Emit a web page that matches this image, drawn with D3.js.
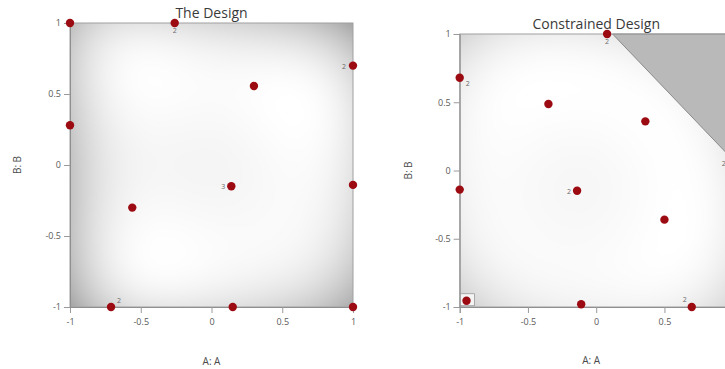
<!DOCTYPE html>
<html>
<head>
<meta charset="utf-8">
<script src="https://cdn.jsdelivr.net/npm/d3@7"></script>
<style>
  html, body { margin: 0; padding: 0; background: #ffffff; }
  svg { display: block; font-family: "Open Sans", "Segoe UI", sans-serif; }
</style>
</head>
<body>
<svg id="chart" width="725" height="369"></svg>
<script>
// Axis ticks shared by both panels
const tickValues = [-1, -0.5, 0, 0.5, 1];
const tickLabels = ["-1", "-0.5", "0", "0.5", "1"];

// Left panel: unconstrained design runs (A, B, replicate count)
const designA = [-1, -0.26, 1, 0.30, -1, 0.14, 1, -0.56, -0.71, 0.15, 1];
const designB = [1, 1, 0.70, 0.556, 0.28, -0.15, -0.14, -0.30, -1, -1, -1];
const designReps = [1, 2, 2, 1, 1, 3, 1, 1, 2, 1, 1];

// Right panel: constrained design runs
const consA = [0.08, -1, -0.35, 0.36, -1, -0.14, 0.50, -0.95, -0.11, 0.70, 1];
const consB = [1, 0.68, 0.487, 0.36, -0.14, -0.148, -0.36, -0.954, -0.98, -1, 0.08];
const consReps = [2, 2, 1, 1, 1, 2, 1, 1, 1, 2, 2];

// Excluded corner of the constrained region (A, B vertices)
const constraintA = [0.12, 1, 1];
const constraintB = [1, 1, 0.08];

// Replicate label placement per run: [dx, dy, anchor]
const designLabelPos = [null, [0, 10, "middle"], [-7, 3, "end"], null, null, [-6, 3, "end"], null, null, [6, -4, "start"], null, null];
const consLabelPos = [[0, 10, "middle"], [6, 8, "start"], null, null, null, [-6, 3, "end"], null, null, null, [-5, -5, "end"], [-7, 6, "end"]];

const svg = d3.select("#chart");
const svgWidth = +svg.attr("width");
const pointColor = "#9c0b12";

// Standard error of prediction for a full quadratic model, used for the background shading
function quadTerms(a, b) { return [1, a, b, a * b, a * a, b * b]; }
function invert(M) {
  const n = M.length;
  const A = M.map((row, i) => row.concat(Array.from({length: n}, (_, j) => (i === j ? 1 : 0))));
  for (let c = 0; c < n; c++) {
    let p = c;
    for (let r = c + 1; r < n; r++) if (Math.abs(A[r][c]) > Math.abs(A[p][c])) p = r;
    [A[c], A[p]] = [A[p], A[c]];
    const pv = A[c][c];
    for (let j = 0; j < 2 * n; j++) A[c][j] /= pv;
    for (let r = 0; r < n; r++) {
      if (r === c) continue;
      const f = A[r][c];
      for (let j = 0; j < 2 * n; j++) A[r][j] -= f * A[c][j];
    }
  }
  return A.map(row => row.slice(n));
}
function seSurface(as, bs, reps) {
  const M = Array.from({length: 6}, () => new Array(6).fill(0));
  as.forEach((a, i) => {
    const f = quadTerms(a, bs[i]);
    for (let r = 0; r < 6; r++) for (let c = 0; c < 6; c++) M[r][c] += reps[i] * f[r] * f[c];
  });
  const Mi = invert(M);
  return (a, b) => {
    const f = quadTerms(a, b);
    let v = 0;
    for (let r = 0; r < 6; r++) for (let c = 0; c < 6; c++) v += f[r] * Mi[r][c] * f[c];
    return Math.sqrt(v);
  };
}

function drawPanel(opts) {
  const {x0, x1, y0, y1, title, titleY, as, bs, reps, labelPos, yTitleX, xTitleY, constraint} = opts;
  const x = d3.scaleLinear().domain([-1, 1]).range([x0, x1]);
  const y = d3.scaleLinear().domain([-1, 1]).range([y1, y0]);
  const g = svg.append("g");

  // shaded standard-error background
  const se = seSurface(as, bs, reps);
  const w = Math.round(x1 - x0), h = Math.round(y1 - y0);
  const canvas = document.createElement("canvas");
  canvas.width = w; canvas.height = h;
  const ctx = canvas.getContext("2d");
  const img = ctx.createImageData(w, h);
  const vals = [];
  for (let j = 0; j < h; j++) for (let i = 0; i < w; i++) vals.push(se(x.invert(x0 + i + 0.5), y.invert(y0 + j + 0.5)));
  const lo = d3.min(vals), hi = d3.max(vals);
  const shade = d3.interpolateRgb("#ffffff", opts.darkest);
  vals.forEach((v, k) => {
    const t = Math.max(0, Math.min(1, (v - lo) / (hi - lo)));
    const c = d3.rgb(shade(Math.pow(t, opts.gamma)));
    img.data[4 * k] = c.r; img.data[4 * k + 1] = c.g; img.data[4 * k + 2] = c.b; img.data[4 * k + 3] = 255;
  });
  ctx.putImageData(img, 0, 0);
  g.append("image").attr("x", x0).attr("y", y0).attr("width", w).attr("height", h)
    .attr("preserveAspectRatio", "none").attr("href", canvas.toDataURL());

  if (constraint) {
    g.append("path")
      .attr("d", d3.line()(constraint.a.map((a, i) => [x(a), y(constraint.b[i])])) + "Z")
      .attr("fill", "#b9b9b9").attr("stroke", "#8a8a8a").attr("stroke-width", 1);
  }

  // frame
  g.append("rect").attr("x", x0).attr("y", y0).attr("width", x1 - x0).attr("height", y1 - y0)
    .attr("fill", "none").attr("stroke", "#a0a0a0").attr("stroke-width", 1);

  const xAxis = g.append("g").attr("transform", `translate(0,${y1})`)
    .call(d3.axisBottom(x).tickValues(tickValues).tickFormat((d, i) => tickLabels[i]).tickSizeOuter(0).tickSize(6).tickPadding(6));
  const yAxis = g.append("g").attr("transform", `translate(${x0},0)`)
    .call(d3.axisLeft(y).tickValues(tickValues).tickFormat((d, i) => tickLabels[i]).tickSizeOuter(0).tickSize(6).tickPadding(3));
  [xAxis, yAxis].forEach(ax => {
    ax.select(".domain").attr("stroke", "#8f8f8f");
    ax.selectAll(".tick line").attr("stroke", "#9a9a9a");
    ax.selectAll(".tick text").attr("fill", "#5a5a5a").style("font-size", "9px").style("font-family", "'Open Sans', sans-serif");
  });
  // tick labels that fall past the drawing edge are left out
  xAxis.selectAll(".tick").filter(d => x(d) + 3 > svgWidth).select("text").remove();

  g.append("text").attr("x", (x0 + x1) / 2).attr("y", titleY).attr("text-anchor", "middle")
    .attr("fill", "#3a3a3a").style("font-size", "14px").text(title);
  g.append("text").attr("x", (x0 + Math.min(x1, x0 + 283)) / 2 + (opts.xTitleShift || 0)).attr("y", xTitleY).attr("text-anchor", "middle")
    .attr("fill", "#4a4a4a").style("font-size", "10px").text("A: A");
  g.append("text").attr("transform", `translate(${yTitleX},${(y0 + y1) / 2}) rotate(-90)`).attr("text-anchor", "middle")
    .attr("fill", "#4a4a4a").style("font-size", "10px").text("B: B");

  if (opts.highlight !== undefined) {
    const k = opts.highlight;
    g.append("rect").attr("x", x(as[k]) - 6).attr("y", y(bs[k]) - 7).attr("width", 14).attr("height", 12)
      .attr("fill", "#f4f4f4").attr("stroke", "#9a9a9a").attr("stroke-width", 0.8);
  }

  g.selectAll("circle.run").data(as).enter().append("circle").attr("class", "run")
    .attr("cx", d => x(d)).attr("cy", (d, i) => y(bs[i])).attr("r", 4.2).attr("fill", pointColor);

  g.selectAll("text.rep").data(as.map((a, i) => i).filter(i => reps[i] > 1 && labelPos[i])).enter()
    .append("text").attr("class", "rep")
    .attr("x", i => x(as[i]) + labelPos[i][0]).attr("y", i => y(bs[i]) + labelPos[i][1])
    .attr("text-anchor", i => labelPos[i][2]).attr("fill", "#6a6a6a").style("font-size", "7px")
    .text(i => reps[i]);
}

drawPanel({x0: 70, x1: 353, y0: 23, y1: 307, title: "The Design", titleY: 18,
  as: designA, bs: designB, reps: designReps, labelPos: designLabelPos,
  yTitleX: 21, xTitleY: 365, gamma: 1.1, darkest: "#a4a4a4"});

drawPanel({x0: 459.7, x1: 732.7, y0: 34, y1: 307, title: "Constrained Design", titleY: 29,
  as: consA, bs: consB, reps: consReps, labelPos: consLabelPos,
  yTitleX: 412, xTitleY: 364, gamma: 1.1, darkest: "#a4a4a4", highlight: 7, xTitleShift: -5,
  constraint: {a: constraintA, b: constraintB}});
</script>
</body>
</html>
